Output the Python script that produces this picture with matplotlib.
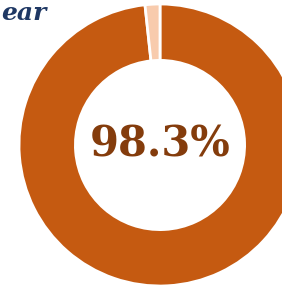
import matplotlib
matplotlib.use("Agg")
import matplotlib.pyplot as plt

# Data
labels = ["Share", "Rest"]
values = [98.3, 1.7]
colors = ["#C55A11", "#F8CBAD"]
center_label = "98.3%"
title_text = "ear"  # only this part of the title is visible

W, H, DPI = 282, 286, 100

fig = plt.figure(figsize=(W / DPI, H / DPI), dpi=DPI)
fig.patch.set_facecolor("white")

# donut axes: centre ~ (160,145) px, outer radius ~141 px
r = 141
cx, cy = 160, 145
ax = fig.add_axes([(cx - r) / W, (H - cy - r) / H, 2 * r / W, 2 * r / H])
ax.pie(values, colors=colors, startangle=90, counterclock=False,
       radius=1.0, wedgeprops=dict(width=0.4, edgecolor="white", linewidth=2))
ax.set_xlim(-1, 1)
ax.set_ylim(-1, 1)
ax.set_aspect("equal")
ax.axis("off")

ax.text(0, 0, center_label, ha="center", va="center", fontsize=30,
        fontweight="bold", family="DejaVu Serif", color="#843C0C")

fig.text(1 / W, 1 - 20 / H, title_text, ha="left", va="baseline",
         fontsize=18, fontweight="bold", fontstyle="italic",
         family="DejaVu Serif", color="#1F3864")

fig.savefig("out.png", dpi=DPI)
